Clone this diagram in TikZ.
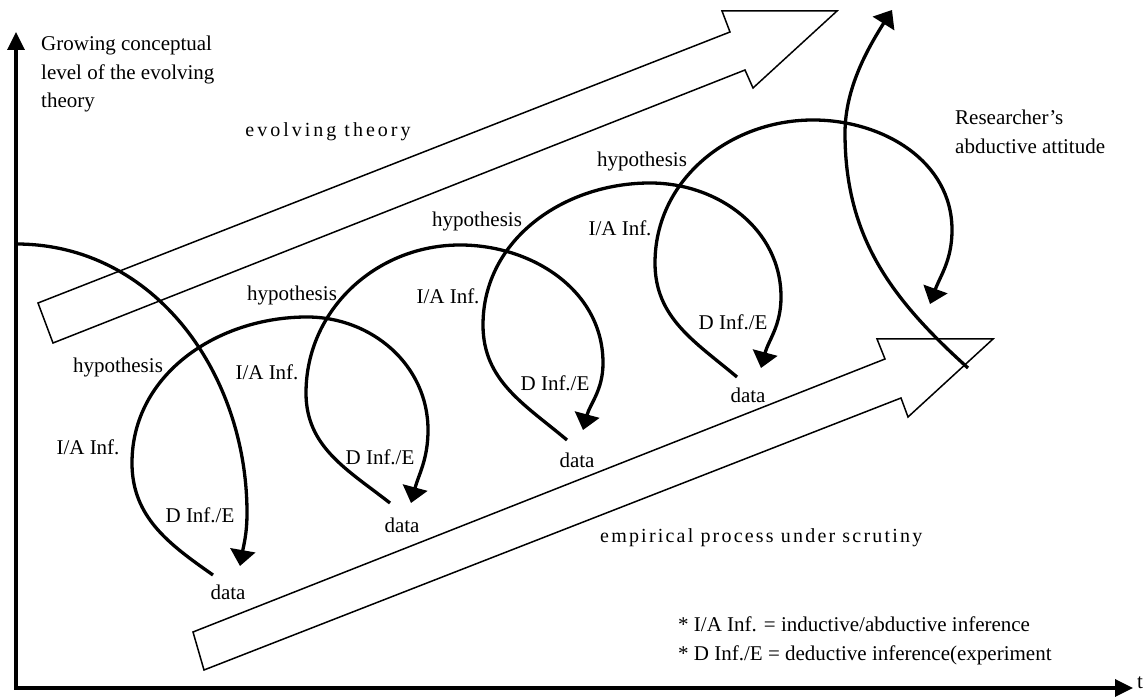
\documentclass[tikz,border=0pt]{standalone}
\usepackage{fontspec}
\setmainfont{Liberation Serif}
\usetikzlibrary{arrows.meta}
\begin{document}
\begin{tikzpicture}[x=1pt,y=1pt,
  lbl/.style={font=\fontsize{21}{25}\selectfont, inner sep=0pt},
  multi/.style={font=\fontsize{21}{28.5}\selectfont, inner sep=0pt, align=left},
  loopline/.style={line width=3.3pt, -{Triangle[length=16pt,width=25pt]}},
  axisline/.style={line width=3.4pt, line join=miter},
  bigarrow/.style={line width=1.5pt, line join=miter},
  spaced/.style={font=\fontsize{20}{24}\selectfont\addfontfeature{LetterSpace=15}, inner sep=0pt},
  spacedb/.style={font=\fontsize{20}{24}\selectfont\addfontfeature{LetterSpace=11}, inner sep=0pt},
]
\useasboundingbox (0,0) rectangle (1148,698);

% axes
\coordinate (O) at (16,10);
\coordinate (Ytop) at (16,666);
\coordinate (Xend) at (1133,10);
\draw[axisline, {Triangle[length=18pt,width=17pt]}-{Triangle[length=18pt,width=17pt]}] (Ytop) -- (O) -- (Xend);
\node[lbl, anchor=west] (tlabel) at (1137,15) {t};

% big arrows
\draw[bigarrow] (38,395) -- (730,666) -- (722,687) -- (837,687) -- (753,610) -- (745,628) -- (53,355) -- cycle;
\draw[bigarrow] (193,66) -- (885,339) -- (877,359) -- (993,359) -- (908,281) -- (901,300) -- (204,28) -- cycle;

% loop coordinates
\coordinate (a0) at (16,454);  \coordinate (a1) at (247,185); \coordinate (a2) at (240,132);
\coordinate (b0) at (213,123); \coordinate (b1) at (132,235); \coordinate (b2) at (307,381); \coordinate (b3) at (428,268); \coordinate (b4) at (411,195);
\coordinate (c0) at (390,195); \coordinate (c1) at (306,305); \coordinate (c2) at (460,453); \coordinate (c3) at (603,335); \coordinate (c4) at (583,268);
\coordinate (d0) at (567,258); \coordinate (d1) at (483,373); \coordinate (d2) at (650,515); \coordinate (d3) at (781,401); \coordinate (d4) at (761,330);
\coordinate (e0) at (737,321); \coordinate (e1) at (655,435); \coordinate (e2) at (813,578); \coordinate (e3) at (952,468); \coordinate (e4) at (930,394);
\coordinate (r0) at (968,330); \coordinate (r1) at (845,565); \coordinate (r2) at (892,688);

\draw[loopline] (a0) to[out=0,in=90] (a1) to[out=-90,in=80] (a2);
\draw[loopline] (b0) to[out=145,in=-90] (b1) to[out=90,in=180] (b2) to[out=0,in=90] (b3) to[out=-90,in=75] (b4);
\draw[loopline] (c0) to[out=142,in=-90] (c1) to[out=90,in=180] (c2) to[out=0,in=90] (c3) to[out=-90,in=75] (c4);
\draw[loopline] (d0) to[out=140,in=-90] (d1) to[out=90,in=180] (d2) to[out=0,in=90] (d3) to[out=-90,in=75] (d4);
\draw[loopline] (e0) to[out=140,in=-90] (e1) to[out=90,in=180] (e2) to[out=0,in=90] (e3) to[out=-90,in=70] (e4);
\draw[loopline] (r0) to[out=138,in=-90] (r1) .. controls (845,610) and (868,650) .. (r2);

% labels
\node[lbl] (hyp1) at (118,331) {hypothesis};
\node[lbl] (hyp2) at (292,403) {hypothesis};
\node[lbl] (hyp3) at (477,477) {hypothesis};
\node[lbl] (hyp4) at (642,537) {hypothesis};
\node[lbl] (ia1) at (88,251) {I/A Inf.};
\node[lbl] (ia2) at (267,326) {I/A Inf.};
\node[lbl] (ia3) at (448,402) {I/A Inf.};
\node[lbl] (ia4) at (620,470) {I/A Inf.};
\node[lbl] (de1) at (200,183) {D Inf./E};
\node[lbl] (de2) at (380,241) {D Inf./E};
\node[lbl] (de3) at (555,315) {D Inf./E};
\node[lbl] (de4) at (733,376) {D Inf./E};
\node[lbl] (data1) at (228,106) {data};
\node[lbl] (data2) at (402,173) {data};
\node[lbl] (data3) at (577,238) {data};
\node[lbl] (data4) at (748,303) {data};

\node[multi, anchor=north west] (ylabel) at (41,662) {Growing conceptual\\level of the evolving\\theory};
\node[multi, anchor=north west] (research) at (955,588) {Researcher’s\\abductive attitude};
\node[multi, anchor=north west] (notes) at (678,81) {* I/A Inf. = inductive/abductive inference\\* D Inf./E = deductive inference(experiment};

\node[spaced] (evo) at (328,566) {evolving theory};
\node[spacedb, anchor=west] (emp) at (600,160) {empirical process under scrutiny};
\end{tikzpicture}
\end{document}
